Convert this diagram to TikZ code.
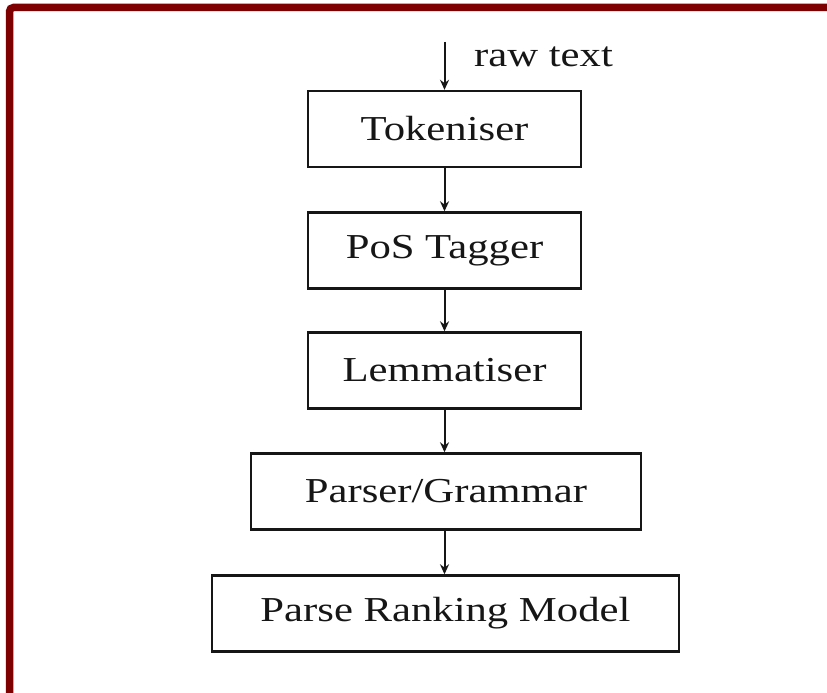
\documentclass[tikz,border=0pt]{standalone}
\usepackage{fontspec}
\setmainfont{Liberation Serif}[FakeStretch=1.22]
\usetikzlibrary{arrows.meta}
\definecolor{framered}{HTML}{7F0000}
\definecolor{inkc}{HTML}{161616}
\tikzset{
  stage/.style={draw=inkc, line width=2.4pt, minimum height=76pt, inner sep=0pt, font=\fontsize{35}{40}\selectfont, text=inkc},
  flow/.style={draw=inkc, line width=2pt, -{Stealth[length=10pt,width=9pt]}}
}
\begin{document}
\begin{tikzpicture}[x=1pt,y=-1pt]
\useasboundingbox (0,0) rectangle (827,693);
\fill[white] (0,0) rectangle (827,693);
\draw[framered, line width=7.5pt, rounded corners=4pt] (9.5,700) -- (9.5,7.5) -- (835,7.5);
\node[stage, minimum width=273pt] (tok) at (444.5,129) {Tokeniser};
\node[stage, minimum width=273pt] (pos) at (444.5,250.5) {PoS Tagger};
\node[stage, minimum width=273pt] (lem) at (444.5,370.5) {Lemmatiser};
\node[stage, minimum width=390pt] (par) at (446,491.5) {Parser/Grammar};
\node[stage, minimum width=467pt] (prm) at (445.5,613.5) {Parse Ranking Model};
\coordinate (in) at (444.5,42);
\node[anchor=west, font=\fontsize{35}{40}\selectfont, text=inkc, inner sep=0pt] (raw) at (474,57) {raw text};
\draw[flow] (in) -- (tok.north);
\draw[flow] (tok.south) -- (pos.north);
\draw[flow] (pos.south) -- (lem.north);
\draw[flow] (lem.south) -- (lem.south |- par.north);
\draw[flow] (lem.south |- par.south) -- (lem.south |- prm.north);
\end{tikzpicture}
\end{document}
